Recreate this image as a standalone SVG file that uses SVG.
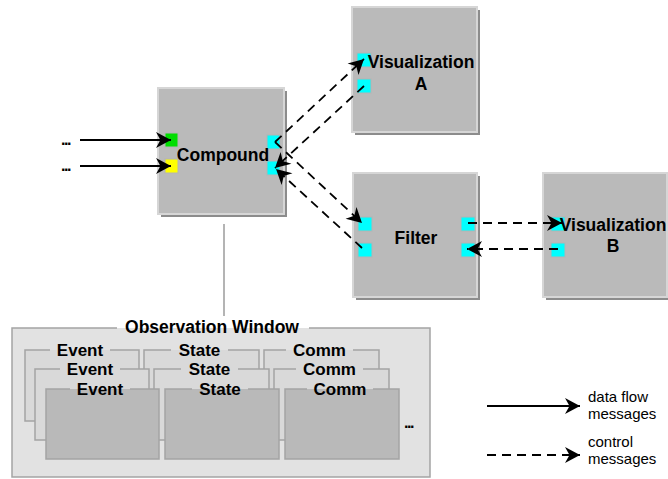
<svg xmlns="http://www.w3.org/2000/svg" width="668" height="479" viewBox="0 0 668 479">
<style>
.shadow{fill:#8c8c8c}
.box{fill:#bababa;stroke:#d6d6d6;stroke-width:2}
.port{stroke:#b4b4b4;stroke-width:1}
.cyan{fill:#00ffff}
.lbl{font-family:"Liberation Sans",Arial,sans-serif;font-weight:bold;font-size:17.5px;fill:#000;text-anchor:middle}
.sub{font-family:"Liberation Sans",Arial,sans-serif;font-weight:bold;font-size:17px;fill:#000;text-anchor:middle}
.leg{font-family:"Liberation Sans",Arial,sans-serif;font-size:15px;fill:#000}
.dots{font-family:"Liberation Sans",Arial,sans-serif;font-weight:bold;font-size:16px;fill:#000;letter-spacing:-1.5px}
.solid{stroke:#000;stroke-width:1.8;fill:none;marker-end:url(#ah)}
.dash{stroke:#000;stroke-width:1.8;fill:none;stroke-dasharray:9 6;marker-end:url(#ah)}
.back{fill:#d9d9d9}
.front{fill:#b9b9b9}
.edge{fill:none;stroke:#a4a4a4;stroke-width:1.5}
</style>
<defs>
<marker id="ah" markerUnits="userSpaceOnUse" markerWidth="18" markerHeight="18" refX="15" refY="8" orient="auto" overflow="visible">
<path d="M0,0 L15,8 L0,16 L4.5,8 z" fill="#000"/>
</marker>
</defs>

<g id="compound">
<rect class="shadow" x="161" y="91" width="126" height="126"/>
<rect class="box" x="158" y="88" width="126" height="126"/>
<rect class="port" x="165" y="133" width="13" height="14" fill="#00dd00"/>
<rect class="port" x="165" y="159" width="13" height="14" fill="#ffff00"/>
<rect class="port cyan" x="267" y="135" width="13" height="14"/>
<rect class="port cyan" x="267" y="161" width="13" height="14"/>
<text class="lbl" x="223" y="161">Compound</text>
</g>

<g id="visA">
<rect class="shadow" x="355" y="10" width="125" height="125"/>
<rect class="box" x="352" y="7" width="125" height="125"/>
<rect class="port cyan" x="357" y="53" width="14" height="14"/>
<rect class="port cyan" x="357" y="79" width="14" height="14"/>
<text class="lbl" x="421" y="68">Visualization</text>
<text class="lbl" x="421" y="90">A</text>
</g>

<g id="filter">
<rect class="shadow" x="356" y="176" width="124" height="124"/>
<rect class="box" x="353" y="173" width="124" height="124"/>
<rect class="port cyan" x="358" y="217" width="14" height="14"/>
<rect class="port cyan" x="358" y="243" width="14" height="14"/>
<rect class="port cyan" x="461" y="217" width="14" height="14"/>
<rect class="port cyan" x="461" y="243" width="14" height="14"/>
<text class="lbl" x="416" y="244">Filter</text>
</g>

<g id="visB">
<rect class="shadow" x="546" y="176" width="124" height="124"/>
<rect class="box" x="543" y="173" width="124" height="124"/>
<rect class="port cyan" x="551" y="217" width="14" height="14"/>
<rect class="port cyan" x="551" y="243" width="14" height="14"/>
<text class="lbl" x="613" y="231">Visualization</text>
<text class="lbl" x="613" y="252">B</text>
</g>

<g id="inputs">
<text class="dots" x="61" y="145">...</text>
<text class="dots" x="61" y="171">...</text>
</g>

<g id="observation-window">
<rect x="12" y="328" width="418" height="149" fill="#e2e2e2"/>
<path class="edge" d="M117,328 H12 V477 H430 V328 H309"/>
<text class="lbl" x="212" y="333">Observation Window</text>

<!-- back layer -->
<rect class="back" x="25" y="350" width="114" height="71"/>
<path class="edge" d="M50,350 H25 V421 H139 V350 H110"/>
<text class="sub" x="80" y="356">Event</text>
<rect class="back" x="144" y="350" width="115" height="71"/>
<path class="edge" d="M171,350 H144 V421 H259 V350 H228"/>
<text class="sub" x="199.5" y="356">State</text>
<rect class="back" x="264" y="350" width="115" height="71"/>
<path class="edge" d="M286,350 H264 V421 H379 V350 H353"/>
<text class="sub" x="319.5" y="356">Comm</text>

<!-- middle layer -->
<rect class="back" x="35" y="369" width="114" height="71"/>
<path class="edge" d="M60,369 H35 V440 H149 V369 H120"/>
<text class="sub" x="90" y="375">Event</text>
<rect class="back" x="154" y="369" width="115" height="71"/>
<path class="edge" d="M181,369 H154 V440 H269 V369 H238"/>
<text class="sub" x="209.5" y="375">State</text>
<rect class="back" x="274" y="369" width="115" height="71"/>
<path class="edge" d="M296,369 H274 V440 H389 V369 H363"/>
<text class="sub" x="329.5" y="375">Comm</text>

<!-- front layer -->
<rect class="front" x="46" y="389" width="113" height="70"/>
<path class="edge" d="M70,389 H46 V459 H159 V389 H130"/>
<text class="sub" x="100" y="395">Event</text>
<rect class="front" x="165" y="389" width="114" height="70"/>
<path class="edge" d="M192,389 H165 V459 H279 V389 H248"/>
<text class="sub" x="220" y="395">State</text>
<rect class="front" x="285" y="389" width="114" height="70"/>
<path class="edge" d="M307,389 H285 V459 H399 V389 H373"/>
<text class="sub" x="340" y="395">Comm</text>

<text class="dots" x="404" y="428">...</text>
</g>

<g id="connectors">
<line x1="224" y1="224" x2="224" y2="316" stroke="#8c8c8c" stroke-width="1.3"/>
<line class="solid" x1="80" y1="140" x2="171" y2="140"/>
<line class="solid" x1="80" y1="166" x2="171" y2="166"/>
<line class="dash" x1="275" y1="142" x2="364" y2="59"/>
<line class="dash" x1="364" y1="86" x2="275" y2="168"/>
<line class="dash" x1="275" y1="142" x2="362" y2="223"/>
<line class="dash" x1="362" y1="248" x2="276" y2="169"/>
<line class="dash" x1="468" y1="223" x2="562" y2="223"/>
<line class="dash" x1="558" y1="249" x2="467" y2="249"/>
</g>

<g id="legend">
<line class="solid" x1="487" y1="406" x2="580" y2="406"/>
<text class="leg" x="588" y="402">data flow</text>
<text class="leg" x="588" y="419">messages</text>
<line class="dash" x1="487" y1="455" x2="580" y2="455"/>
<text class="leg" x="588" y="447">control</text>
<text class="leg" x="588" y="464">messages</text>
</g>
</svg>
